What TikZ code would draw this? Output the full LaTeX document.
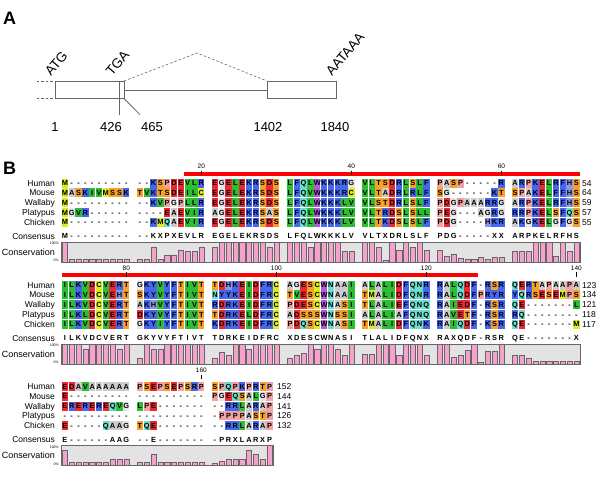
\documentclass[tikz,border=0pt]{standalone}
\usepackage{fontspec}
\setmainfont{Liberation Sans}

\definecolor{clRed}{HTML}{EC2832}
\definecolor{clBlue}{HTML}{4668F0}
\definecolor{clOrange}{HTML}{F7A12A}
\definecolor{clGreen}{HTML}{2EBE34}
\definecolor{clYellow}{HTML}{DCEC1E}
\definecolor{clCyan}{HTML}{6EDCCC}
\definecolor{clPurple}{HTML}{B05ADC}
\definecolor{clHis}{HTML}{8C96E6}
\definecolor{clPink}{HTML}{F2A4A4}
\definecolor{clAla}{HTML}{CCCCCC}
\definecolor{clGly}{HTML}{E6E6E6}
\definecolor{barpink}{HTML}{F5A3CD}
\colorlet{resD}{clRed}    \colorlet{resE}{clRed}
\colorlet{resK}{clBlue}   \colorlet{resR}{clBlue}
\colorlet{resF}{clBlue}   \colorlet{resY}{clBlue}
\colorlet{resS}{clOrange} \colorlet{resT}{clOrange}
\colorlet{resI}{clGreen}  \colorlet{resL}{clGreen}  \colorlet{resV}{clGreen}
\colorlet{resM}{clYellow} \colorlet{resC}{clYellow}
\colorlet{resN}{clCyan}   \colorlet{resQ}{clCyan}
\colorlet{resW}{clPurple} \colorlet{resH}{clHis}
\colorlet{resP}{clPink}   \colorlet{resA}{clAla}    \colorlet{resG}{clGly}

\tikzset{
  panel/.style={font=\fontsize{18}{20}\selectfont\bfseries, anchor=north west, inner sep=0},
  genel/.style={draw=black!60, line width=0.8pt},
  splice/.style={draw=black!60, line width=0.6pt, dash pattern=on 2.5pt off 2pt},
  genelab/.style={font=\fontsize{13.5}{15}\selectfont, rotate=50, anchor=base west, inner sep=0},
  posnum/.style={font=\fontsize{13}{15}\selectfont, inner sep=0},
  seqname/.style={font=\fontsize{8.5}{10}\selectfont, anchor=east, inner sep=0, text height=6pt, text depth=0pt},
  seqlen/.style={font=\fontsize{8.5}{10}\selectfont, anchor=west, inner sep=0, text height=6pt, text depth=0pt},
  resletter/.style={font=\fontsize{7.4}{8}\selectfont\bfseries, inner sep=0, text height=5.3pt, text depth=0pt},
  conslet/.style={font=\fontsize{7.4}{8}\selectfont\bfseries, inner sep=0, text height=5.3pt, text depth=0pt},
  ticklab/.style={font=\fontsize{6.5}{7}\selectfont, inner sep=0},
  pctlab/.style={font=\fontsize{3.5}{4}\selectfont, anchor=east, inner sep=0},
  consbox/.style={fill=black!11, draw=black!60, line width=0.6pt},
  consbar/.style={fill=barpink, draw=black!60, line width=0.35pt},
  helix/.style={fill=red},
}

% one row of the alignment, column by column
\newcount\rescol
\newcount\resshade
\def\putres#1{%
  \pgfmathsetmacro\resx{61.5+(\the\rescol+floor(\the\rescol/10))*6.82}%
  \global\advance\rescol by 1\relax
  \if#1-%
    \node[resletter] at (\resx+3.41,\resy) {-};%
  \else
    \ifnum\resshade=1
      \fill[fill=res#1] (\resx+0.25,\resy-4.5) rectangle (\resx+6.57,\resy+4.5);%
      \node[resletter] at (\resx+3.41,\resy) {#1};%
    \else
      \node[conslet] at (\resx+3.41,\resy) {#1};%
    \fi
  \fi}
\def\rowloop#1{%
  \ifx#1\relax
  \else
    \putres#1%
    \expandafter\rowloop
  \fi}
\newcommand\seqrow[2]{\global\rescol=0 \global\resshade=1 \def\resy{#1}\rowloop#2\relax}
\newcommand\consrow[2]{\global\rescol=0 \global\resshade=0 \def\resy{#1}\rowloop#2\relax}
% conservation plot: y of top, right edge, heights
\newcommand\conservation[3]{%
  \filldraw[consbox] (61.5,#1) rectangle (#2,#1+20);
  \foreach \h [count=\i from 0] in {#3} {
    \pgfmathsetmacro\barx{61.5+(\i+floor(\i/10))*6.82}
    \filldraw[consbar] (\barx+0.8,#1+20) rectangle (\barx+6.0,#1+20-\h*20);
  }
  \node[pctlab] at (59,#1+1.5) {100\%};
  \node[pctlab] at (59,#1+18.5) {0\%};
}

\begin{document}
\begin{tikzpicture}[x=1pt,y=-1pt]
\useasboundingbox (0,0) rectangle (600,477);

% A: gene structure
\node[panel] (pa) at (3,11.5) {A};
\draw[splice] (36.5,81) -- (55,81);
\draw[splice] (36.5,98.5) -- (55,98.5);
\draw[genel] (55,81) rectangle (124,98.5);
\draw[genel] (124,90) -- (267,90);
\draw[genel] (267,81) rectangle (336,98.5);
\draw[splice] (124,81) -- (197,53) -- (267,81);
\node[genelab] (atg) at (51,77) {ATG};
\node[genelab] (tga) at (112,77) {TGA};
\node[genelab] (polya) at (332,77) {AATAAA};
\node[posnum] (p1) at (55,127) {1};
\node[posnum] (p426) at (111,127) {426};
\node[posnum] (p465) at (152,127) {465};
\node[posnum] (p1402) at (268,127) {1402};
\node[posnum] (p1840) at (335,127) {1840};
\coordinate (stop) at (119,81);
\coordinate (stopend) at (119,115);
\coordinate (ex1end) at (124,98.5);
\coordinate (ex1endlab) at (140,114.6);
\draw[genel] (stop) -- (stopend);
\draw[genel] (ex1end) -- (ex1endlab);

% B: alignment
\node[panel] (pb) at (3,161.5) {B};

% block 1
\fill[helix] (184.26,172.3) rectangle (579.82,175.7);
\foreach \x/\n in {201.31/20, 351.35/40, 501.39/60} {
  \node[ticklab] at (\x,166.7) {\n};
  \draw[line width=0.5pt] (\x,170.5) -- (\x,175);
}
\node[seqname] (hu1) at (55,183) {Human};
\seqrow{183}{M--------- --KSPDEVLR EGELEKRSDS LFQLWKKKRG VLTSDRLSLF PASP-----R ARPKELRFHS}
\node[seqlen] (hu1n) at (582,183) {54};
\node[seqname] (mo1) at (55,192.8) {Mouse};
\seqrow{192.8}{MASKIVMSSK TVKTSDEILC EGELEKRSDS LFQVWKKKRC VLTADRLRLF SG------KT SPAKELFFHS}
\node[seqlen] (mo1n) at (582,192.8) {64};
\node[seqname] (wa1) at (55,202.6) {Wallaby};
\seqrow{202.6}{M--------- --KVPGPLLR EGELEKRSDS LFQLWKKKLV VLSTDRLSLF PDGPAAARRG ARPKELRFHS}
\node[seqlen] (wa1n) at (582,202.6) {59};
\node[seqname] (pl1) at (55,212.4) {Platypus};
\seqrow{212.4}{MGVR------ ----EAEVIR AGELEKRSAS LFQLWKKKLV VLTRDSLSLL PEG---AGRG RRPKELSFQS}
\node[seqlen] (pl1n) at (582,212.4) {57};
\node[seqname] (ch1) at (55,222.2) {Chicken};
\seqrow{222.2}{M--------- --KMQAEVIR EGELEKRSDS LFQLWKKKLV VLTKDSLSLF PDG----HKR AKGKELGFGS}
\node[seqlen] (ch1n) at (582,222.2) {55};
\node[seqname] (co1) at (55,236) {Consensus};
\consrow{236}{M--------- --KXPXEVLR EGELEKRSDS LFQLWKKKLV VLTXDRLSLF PDG-----XX ARPKELRFHS}
\node[seqname, font=\fontsize{9}{10}\selectfont] (cv1) at (55,252) {Conservation};
\conservation{242}{579.82}{1,.15,.15,.15,.15,.15,.15,.15,.15,.15,
 .15,.15,.75,.15,.35,.35,.6,.55,.55,.75,
 .75,1,1,1,1,1,1,1,.75,1,
 1,1,1,.75,1,1,1,1,.55,.55,
 1,1,.75,.1,1,.6,1,.75,1,.6,
 .6,.3,.4,.2,.15,.15,.25,.15,.25,.25,
 .55,.55,.55,1,1,1,.3,1,.55,1}

% block 2
\fill[helix] (61.5,272.7) rectangle (477.5,276.5);
\foreach \x/\n in {126.29/80, 276.33/100, 426.37/120, 576.41/140} {
  \node[ticklab] at (\x,268.5) {\n};
  \draw[line width=0.5pt] (\x,272.2) -- (\x,276.5);
}
\node[seqname] (hu2) at (55,285) {Human};
\seqrow{285}{ILKVDCVERT GKYVYFTIVT TDHKEIDFRC AGESCWNAAI ALALIDFQNR RALQDF-RSR QERTAPAAPA}
\node[seqlen] (hu2n) at (582,285) {123};
\node[seqname] (mo2) at (55,294.8) {Mouse};
\seqrow{294.8}{ILKVDCVEHT SKYVYFTIVT NYYKEIDFRC TVESCWNAAI TMALIDFQNR RALQDFPRYR YQRSESEMPS}
\node[seqlen] (mo2n) at (582,294.8) {134};
\node[seqname] (wa2) at (55,304.6) {Wallaby};
\seqrow{304.6}{ILKVDCVERT AKHVYFTIVT RDRKEIDFRC PDESCWNASI TLALIEFQNQ RAIEDF-RSR QE-------L}
\node[seqlen] (wa2n) at (582,304.6) {121};
\node[seqname] (pl2) at (55,314.4) {Platypus};
\seqrow{314.4}{ILKLDCVERT DKYVYFTIVT TDRKELDFRC ADSSSWNSSI ALALIAFQNQ RAVETF-RSR RQ--------}
\node[seqlen] (pl2n) at (582,314.4) {118};
\node[seqname] (ch2) at (55,324.2) {Chicken};
\seqrow{324.2}{ILKVDCVERT GKYIYFTIVT KDRKEIDFRC PDQSCWNASI TMALIDFQNK RAIQDF-KSR QE-------M}
\node[seqlen] (ch2n) at (582,324.2) {117};
\node[seqname] (co2) at (55,338) {Consensus};
\consrow{338}{ILKVDCVERT GKYVYFTIVT TDRKEIDFRC XDESCWNASI TLALIDFQNX RAXQDF-RSR QE-------X}
\node[seqname, font=\fontsize{9}{10}\selectfont] (cv2) at (55,354) {Conservation};
\conservation{344}{579.82}{1,1,1,.75,1,1,1,1,.75,1,
 .3,1,.75,.75,1,1,1,1,1,1,
 .3,.6,.45,1,1,.75,1,1,1,1,
 .3,.45,.55,1,.75,1,1,.75,.45,1,
 .5,.5,1,1,1,.45,1,1,1,.45,
 1,1,.35,.45,.7,1,.1,.65,.65,1,
 .45,.45,.3,.15,.15,.15,.15,.15,.15,.15}

% block 3
\node[ticklab] at (201.31,370) {160};
\draw[line width=0.5pt] (201.31,374.5) -- (201.31,379);
\node[seqname] (hu3) at (55,386.5) {Human};
\seqrow{386.5}{EDAVAAAAAA PSEPSEPSRP SPQPKPRTP}
\node[seqlen] (hu3n) at (277,386.5) {152};
\node[seqname] (mo3) at (55,396.3) {Mouse};
\seqrow{396.3}{E--------- ---------- PGEQSALGP}
\node[seqlen] (mo3n) at (277,396.3) {144};
\node[seqname] (wa3) at (55,406.1) {Wallaby};
\seqrow{406.1}{EREREREQVG LPE------- --RRLARAP}
\node[seqlen] (wa3n) at (277,406.1) {141};
\node[seqname] (pl3) at (55,415.9) {Platypus};
\seqrow{415.9}{---------- ---------- -PPPPASTP}
\node[seqlen] (pl3n) at (277,415.9) {126};
\node[seqname] (ch3) at (55,425.7) {Chicken};
\seqrow{425.7}{E-----QAAG TQE------- --RRLARAP}
\node[seqlen] (ch3n) at (277,425.7) {132};
\node[seqname] (co3) at (55,439.5) {Consensus};
\consrow{439.5}{E------AAG --E------- -PRXLARXP}
\node[seqname, font=\fontsize{9}{10}\selectfont] (cv3) at (55,455.5) {Conservation};
\conservation{445.5}{272.92}{.75,.15,.15,.15,.15,.15,.15,.3,.3,.3,
 .15,.15,.55,.15,.15,.15,.15,.15,.15,.15,
 .1,.2,.3,.3,.3,.75,.55,.3,1}
\end{tikzpicture}
\end{document}
